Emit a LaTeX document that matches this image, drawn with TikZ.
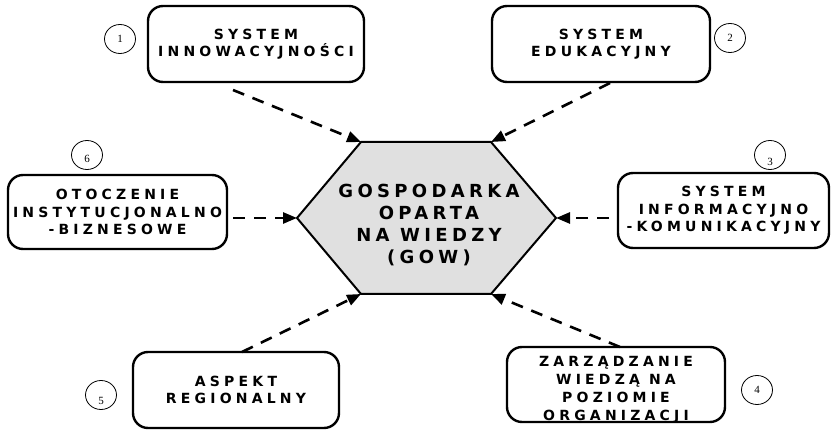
\documentclass[tikz,border=0pt]{standalone}
\usepackage{fontspec}
\usetikzlibrary{arrows.meta,shapes.geometric}
\newfontfamily\boxfont[LetterSpace=30]{DejaVu Sans Bold}
\newfontfamily\hexfont[LetterSpace=24]{DejaVu Sans Bold}
\newfontfamily\numfont{Liberation Serif}
\begin{document}
\begin{tikzpicture}[x=1pt,y=-1pt,
  topic/.style={draw, line width=2.4pt, rounded corners=15pt, inner sep=0pt,
    align=center, font=\boxfont\fontsize{14}{17.5}\selectfont},
  topictext/.style={inner sep=0pt, align=center, font=\boxfont\fontsize{14}{18}\selectfont},
  tag/.style={draw, line width=0.8pt, ellipse, minimum width=31pt, minimum height=29pt,
    inner sep=0pt},
  num/.style={inner sep=0pt, font=\numfont\fontsize{11}{12}\selectfont},
  hexlabel/.style={align=center, font=\hexfont\fontsize{18}{22}\selectfont},
  conn/.style={line width=2.6pt, dash pattern=on 12pt off 9pt,
    -{Triangle[length=14pt,width=11pt]}}]
\useasboundingbox (0,0) rectangle (831,430);

% central hexagon
\coordinate (hL) at (297,218);
\coordinate (hTL) at (361,142);
\coordinate (hTR) at (491,142);
\coordinate (hR) at (556,218);
\coordinate (hBR) at (491,294);
\coordinate (hBL) at (361,294);
\draw[line width=2pt, fill=black!12, line join=miter]
  (hL) -- (hTL) -- (hTR) -- (hR) -- (hBR) -- (hBL) -- cycle;
\node[hexlabel] (gow) at (429,225) {GOSPODARKA\\OPARTA\\NA WIEDZY\\(GOW)};

% surrounding topics
\node[topic, minimum width=216pt, minimum height=76pt] (b1) at (256,44) {SYSTEM\\INNOWACYJNOŚCI};
\node[topic, minimum width=218pt, minimum height=76pt] (b2) at (601,44) {SYSTEM\\EDUKACYJNY};
\node[topic, minimum width=211pt, minimum height=75pt] (b3) at (723.5,210.5) {SYSTEM\\INFORMACYJNO\\-KOMUNIKACYJNY};
\node[topic, minimum width=218pt, minimum height=75pt] (b4) at (616,384.5) {};
\node[topictext] (b4text) at (616,390) {ZARZĄDZANIE\\WIEDZĄ NA\\POZIOMIE\\ORGANIZACJI};
\node[topic, minimum width=206pt, minimum height=76pt] (b5) at (236,390) {ASPEKT\\REGIONALNY};
\node[topic, minimum width=219pt, minimum height=74pt] (b6) at (117.5,212) {OTOCZENIE\\INSTYTUCJONALNO\\-BIZNESOWE};

% numbered tags
\node[tag] (t1) at (120,39) {};
\node[tag] (t2) at (730,38) {};
\node[tag] (t3) at (770,155) {};
\node[tag] (t4) at (757,390) {};
\node[tag] (t5) at (101,395) {};
\node[tag] (t6) at (87,155) {};
\node[num] (n1) at (t1.center) {1};
\node[num] (n2) at (t2.center) {2};
\node[num] (n3) at ([yshift=-7pt]t3.center) {3};
\node[num] (n4) at (t4.center) {4};
\node[num] (n5) at ([yshift=-6pt]t5.center) {5};
\node[num] (n6) at ([yshift=-4pt]t6.center) {6};

% connector start points
\coordinate (s1) at (233,90);
\coordinate (s2) at (610,83);
\coordinate (s3) at (609,218);
\coordinate (s4) at (620,347);
\coordinate (s5) at (242,352);
\coordinate (s6) at (233,218);

\draw[conn] (s1) -- (hTL);
\draw[conn] (s2) -- (hTR);
\draw[conn] (s3) -- (hR);
\draw[conn] (s4) -- (hBR);
\draw[conn] (s5) -- (hBL);
\draw[conn] (s6) -- (hL);
\end{tikzpicture}
\end{document}
